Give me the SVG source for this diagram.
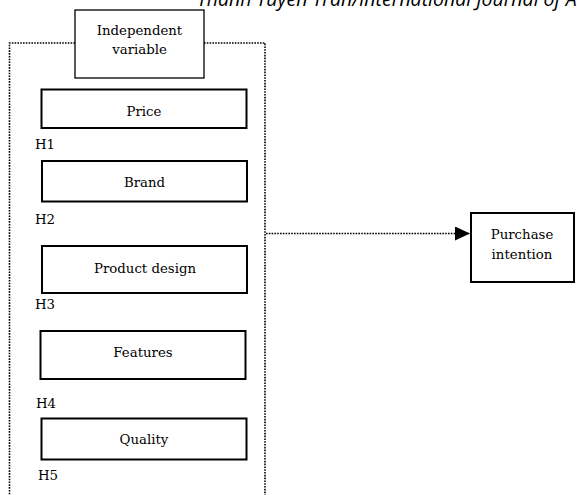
<svg xmlns="http://www.w3.org/2000/svg" width="577" height="495" viewBox="0 0 577 495">
<defs>
<style>
.box{fill:#fff;stroke:#000;stroke-width:1.3}
.box2{fill:#fff;stroke:#000;stroke-width:2}
.dot{fill:none;stroke:#000;stroke-width:1.6;stroke-dasharray:1.6 1.2}
.t{font-family:"DejaVu Serif","Liberation Serif",serif;font-size:13.3px;fill:#000;text-anchor:middle}
.h{font-family:"DejaVu Serif","Liberation Serif",serif;font-size:13.3px;fill:#000}
.hdr{font-family:"Open Sans","Liberation Sans",sans-serif;font-style:italic;font-size:19.5px;fill:#000}
</style>
<marker id="arr" markerWidth="15" markerHeight="14" refX="15" refY="7" orient="auto" markerUnits="userSpaceOnUse">
<path d="M0,0 L15,7 L0,14 Z" fill="#000"/>
</marker>
</defs>
<rect width="577" height="495" fill="#fff"/>
<text class="hdr" x="197" y="6">Thanh Tuyen Tran/International Journal of A</text>
<g id="connectors">
<path class="dot" d="M75,43 H9.5 V495"/>
<path class="dot" d="M204,43 H265 V495"/>
<path class="dot" d="M266,233.5 H470" marker-end="url(#arr)"/>
</g>
<g id="independent">
<rect class="box" x="75" y="10" width="129" height="68"/>
<text class="t" x="139.5" y="35">Independent</text>
<text class="t" x="139.5" y="54">variable</text>
</g>
<g id="price">
<rect class="box2" x="41.5" y="89.5" width="205" height="38.5"/>
<text class="t" x="144" y="116">Price</text>
<text class="h" x="35" y="149">H1</text>
</g>
<g id="brand">
<rect class="box2" x="42" y="161" width="205" height="40.5"/>
<text class="t" x="144.5" y="187">Brand</text>
<text class="h" x="35" y="224">H2</text>
</g>
<g id="product">
<rect class="box2" x="42" y="246" width="205" height="47"/>
<text class="t" x="145" y="273">Product design</text>
<text class="h" x="35" y="309">H3</text>
</g>
<g id="features">
<rect class="box2" x="40.5" y="331" width="205" height="48"/>
<text class="t" x="143" y="357">Features</text>
<text class="h" x="36" y="408">H4</text>
</g>
<g id="quality">
<rect class="box2" x="41.5" y="418.5" width="205" height="41"/>
<text class="t" x="144" y="444">Quality</text>
<text class="h" x="38" y="480">H5</text>
</g>
<g id="purchase">
<rect class="box2" x="471" y="213" width="103" height="69"/>
<text class="t" x="522" y="239">Purchase</text>
<text class="t" x="522" y="259">intention</text>
</g>
</svg>
